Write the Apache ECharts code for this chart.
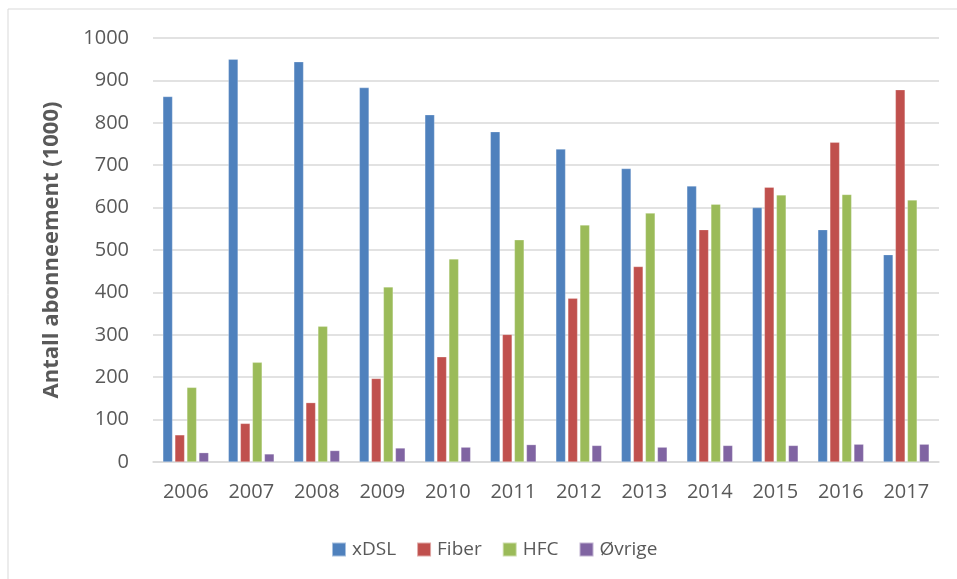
<!DOCTYPE html>
<html>
<head>
<meta charset="utf-8">
<script src="https://cdn.jsdelivr.net/npm/echarts@6/dist/echarts.min.js"></script>
<style>html,body{margin:0;padding:0;background:#fff}#c{width:957px;height:579px}</style>
</head>
<body>
<div id="c"></div>
<script>
const years = ['2006','2007','2008','2009','2010','2011','2012','2013','2014','2015','2016','2017'];
const xDSL = [862, 950, 944, 883, 819, 779, 738, 692, 651, 600, 548, 489];
const fiber = [64, 91, 140, 197, 248, 301, 386, 461, 548, 648, 754, 878];
const hfc = [176, 235, 320, 413, 479, 524, 559, 587, 608, 630, 631, 618];
const ovrige = [22, 19, 27, 33, 35, 41, 39, 35, 39, 39, 42, 42];
const yTicks = [0, 100, 200, 300, 400, 500, 600, 700, 800, 900, 1000];

const colors = ['#4F81BD', '#C0504D', '#9BBB59', '#8064A2'];
const font = '"Open Sans", "Liberation Sans", sans-serif';
const chart = echarts.init(document.getElementById('c'), null, {renderer: 'canvas'});
function s(name, data, c) {
  return {name, type: 'bar', data, barWidth: 9.7, barGap: '24%',
    itemStyle: {color: c, borderColor: 'rgba(255,255,255,0.5)', borderWidth: 0.5}};
}
chart.setOption({
  animation: false,
  color: colors,
  graphic: [{type: 'rect', shape: {x: 8, y: 9, width: 1200, height: 1200},
    style: {fill: 'none', stroke: '#D9D9D9', lineWidth: 1}, silent: true}],
  grid: {left: 153, right: 18, top: 38, bottom: 117, containLabel: false},
  legend: {
    data: ['xDSL', 'Fiber', 'HFC', 'Øvrige'],
    left: 326, top: 535, itemWidth: 14, itemHeight: 14, itemGap: 20,
    icon: 'rect',
    textStyle: {color: '#595959', fontSize: 19, fontFamily: font, padding: [0, 0, 0, 1]}
  },
  xAxis: {
    type: 'category', data: years,
    axisLine: {lineStyle: {color: '#D9D9D9', width: 1.5}},
    axisTick: {show: false},
    axisLabel: {color: '#595959', fontSize: 20, fontFamily: font, margin: 20}
  },
  yAxis: {
    type: 'value', min: 0, max: 1000, interval: 100,
    name: 'Antall abonneement (1000)', nameLocation: 'middle', nameGap: 90,
    nameTextStyle: {color: '#595959', fontSize: 22, fontWeight: 'bold', fontFamily: font},
    axisLine: {show: false}, axisTick: {show: false},
    splitLine: {lineStyle: {color: '#D9D9D9', width: 1.5}},
    axisLabel: {color: '#595959', fontSize: 20, fontFamily: font, margin: 24,
      formatter: v => yTicks.includes(v) ? String(v) : ''}
  },
  series: [s('xDSL', xDSL, colors[0]), s('Fiber', fiber, colors[1]), s('HFC', hfc, colors[2]), s('Øvrige', ovrige, colors[3])]
});
</script>
</body>
</html>
